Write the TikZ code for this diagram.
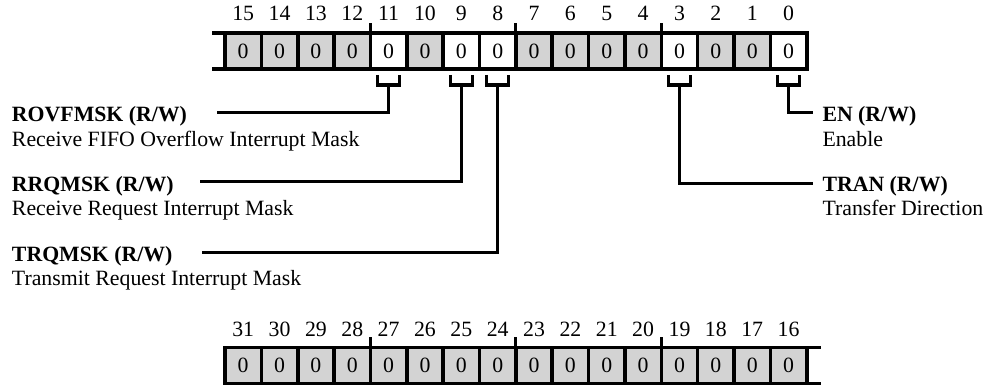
\documentclass[tikz,border=0pt]{standalone}
\usepackage{fontspec}
\setmainfont{Liberation Serif}
\usetikzlibrary{calc}
\definecolor{cellgray}{RGB}{211,211,211}
\begin{document}
\begin{tikzpicture}[x=1pt,y=-1pt,
  every node/.style={font=\fontsize{21.8}{26}\selectfont, inner sep=0pt, outer sep=0pt},
  cell/.style={draw, line width=3.6pt, minimum width=36.36pt, minimum height=36pt, anchor=center},
  regline/.style={line width=3.6pt},
  tick/.style={line width=3pt},
  brk/.style={line width=3.2pt, line join=miter},
  bitnum/.style={anchor=base},
  title/.style={anchor=base west, font=\fontsize{21.8}{26}\selectfont\bfseries},
  desc/.style={anchor=base west}]
\useasboundingbox (0,0) rectangle (989,387);
% top register, bits 15..0
\foreach \b/\f in {15/cellgray,14/cellgray,13/cellgray,12/cellgray,11/white,10/cellgray,9/white,8/white,7/cellgray,6/cellgray,5/cellgray,4/cellgray,3/white,2/cellgray,1/cellgray,0/white}{
  \pgfmathsetmacro{\cx}{225+(15-\b)*36.36+18.18}
  \node[cell, fill=\f] (t\b) at (\cx,51) {0};
  \node[bitnum] (tn\b) at (\cx,21) {\b};
}
% bottom register, bits 31..16
\foreach \b in {31,30,...,16}{
  \pgfmathsetmacro{\cx}{225+(31-\b)*36.36+18.18}
  \node[cell, fill=cellgray] (b\b) at (\cx,365.5) {0};
  \node[bitnum] (bn\b) at (\cx,337) {\b};
}
% extensions of register lines
\draw[regline] (t15.north west) -- ++(-13.3,0);
\draw[regline] (t15.south west) -- ++(-13.3,0);
\draw[regline] (b16.north east) -- ++(14,0);
\draw[regline] (b16.south east) -- ++(14,0);
% nibble ticks
\foreach \n in {t11,t7,t3,b27,b23,b19}{
  \draw[tick] (\n.north west) -- ++(0,-10);
}
% brackets under fields
\foreach \n in {t11,t9,t8,t3,t0}{
  \draw[brk] ($(\n.south)+(-11,6)$) -- ++(0,10) -- ++(22,0) -- ++(0,-10);
}
% labels
\node[title] (rov) at (12,121.5) {ROVFMSK (R/W)};
\node[desc] (rovd) at (12,146.5) {Receive FIFO Overflow Interrupt Mask};
\node[title] (rrq) at (12,191.5) {RRQMSK (R/W)};
\node[desc] (rrqd) at (12,215.5) {Receive Request Interrupt Mask};
\node[title] (trq) at (12,261.5) {TRQMSK (R/W)};
\node[desc] (trqd) at (12,286) {Transmit Request Interrupt Mask};
\node[title] (en) at (822.5,121.5) {EN (R/W)};
\node[desc] (enx) at (822.5,146.5) {Enable};
\node[title] (tran) at (822.5,191.5) {TRAN (R/W)};
\node[desc] (trand) at (822.5,215.5) {Transfer Direction};
% connector ends
\coordinate (rovend) at (217,112.3);
\coordinate (rrqend) at (200,181.7);
\coordinate (trqend) at (201.7,252.3);
\coordinate (enend) at (813,112.3);
\coordinate (tranend) at (813,183.3);
% connectors
\draw[brk] ($(t11.south)+(0,16)$) |- (rovend);
\draw[brk] ($(t9.south)+(0,16)$) |- (rrqend);
\draw[brk] ($(t8.south)+(0,16)$) |- (trqend);
\draw[brk] ($(t0.south)+(0,16)$) |- (enend);
\draw[brk] ($(t3.south)+(0,16)$) |- (tranend);
\end{tikzpicture}
\end{document}
